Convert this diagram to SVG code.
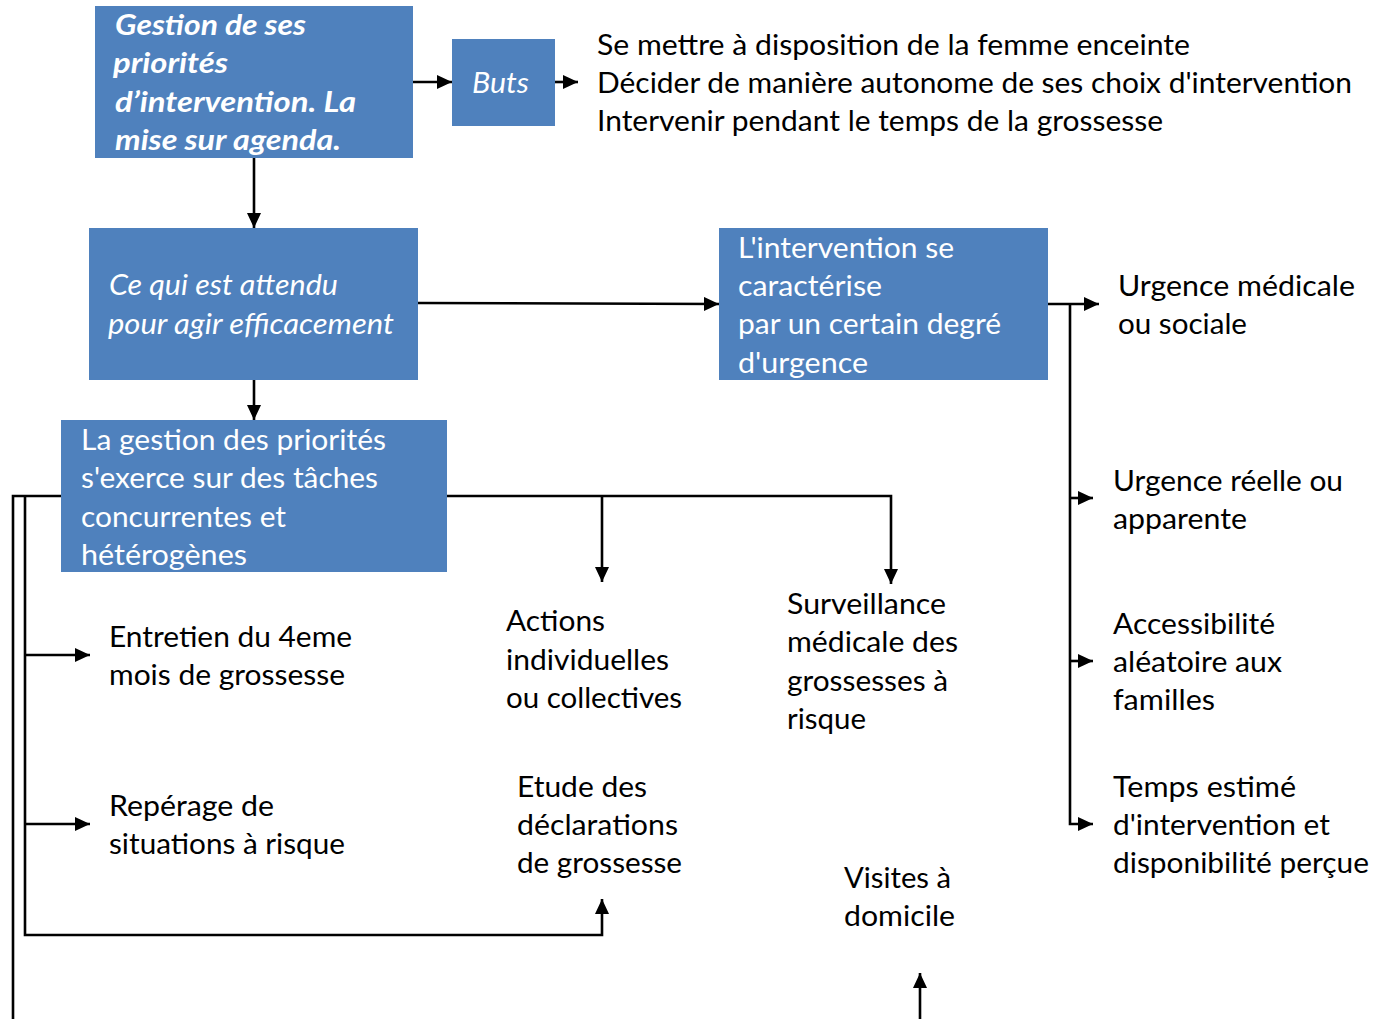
<svg xmlns="http://www.w3.org/2000/svg" width="1375" height="1019" viewBox="0 0 1375 1019">
<defs>
<marker id="ah" markerUnits="userSpaceOnUse" markerWidth="16" markerHeight="14" refX="15" refY="7" orient="auto">
<path d="M0,0 L15,7 L0,14 Z" fill="#000"/>
</marker>
<style>
.box{fill:#4F81BD}
.t{font-family:Lato,"Open Sans","Noto Sans",sans-serif;font-size:28px;fill:#000}
.w{fill:#fff}
.bi{font-weight:bold;font-style:italic}
.i{font-style:italic}
.c{fill:none;stroke:#000;stroke-width:2.6}
</style>
</defs>
<rect width="1375" height="1019" fill="#fff"/>

<g id="connectors">
<path class="c" d="M413,82 H452" marker-end="url(#ah)"/>
<path class="c" d="M555,82 H578" marker-end="url(#ah)"/>
<path class="c" d="M254,158 V228" marker-end="url(#ah)"/>
<path class="c" d="M254,380 V420" marker-end="url(#ah)"/>
<path class="c" d="M418,303 L719,304" marker-end="url(#ah)"/>
<path class="c" d="M447,496 H891 V584" marker-end="url(#ah)"/>
<path class="c" d="M602,496 V582" marker-end="url(#ah)"/>
<path class="c" d="M61,496 H13 V1020.2 H920 V973" marker-end="url(#ah)"/>
<path class="c" d="M25,496 V935 H602 V899" marker-end="url(#ah)"/>
<path class="c" d="M25,655 H90" marker-end="url(#ah)"/>
<path class="c" d="M25,824 H90" marker-end="url(#ah)"/>
<path class="c" d="M1048,304 H1099" marker-end="url(#ah)"/>
<path class="c" d="M1070,304 V824 H1093" marker-end="url(#ah)"/>
<path class="c" d="M1070,498 H1093" marker-end="url(#ah)"/>
<path class="c" d="M1070,661 H1093" marker-end="url(#ah)"/>
</g>

<g id="gestion">
<rect class="box" x="95" y="6" width="318" height="152"/>
<text class="t w bi"><tspan x="115" y="35" textLength="191" lengthAdjust="spacingAndGlyphs">Gestion de ses</tspan><tspan x="113" y="73" textLength="115" lengthAdjust="spacingAndGlyphs">priorités</tspan><tspan x="115" y="112" textLength="241" lengthAdjust="spacingAndGlyphs">d’intervention. La</tspan><tspan x="115" y="150" textLength="226" lengthAdjust="spacingAndGlyphs">mise sur agenda.</tspan></text>
</g>

<g id="buts">
<rect class="box" x="452" y="39" width="103" height="87"/>
<text class="t w i" x="472" y="93" textLength="57" lengthAdjust="spacingAndGlyphs">Buts</text>
</g>

<g id="buts-list">
<text class="t"><tspan x="597" y="55" textLength="593" lengthAdjust="spacingAndGlyphs">Se mettre à disposition de la femme enceinte</tspan><tspan x="597" y="93" textLength="755" lengthAdjust="spacingAndGlyphs">Décider de manière autonome de ses choix d'intervention</tspan><tspan x="597" y="131" textLength="566" lengthAdjust="spacingAndGlyphs">Intervenir pendant le temps de la grossesse</tspan></text>
</g>

<g id="attendu">
<rect class="box" x="89" y="228" width="329" height="152"/>
<text class="t w i"><tspan x="109" y="295" textLength="229" lengthAdjust="spacingAndGlyphs">Ce qui est attendu</tspan><tspan x="108" y="334" textLength="286" lengthAdjust="spacingAndGlyphs">pour agir efficacement</tspan></text>
</g>

<g id="intervention">
<rect class="box" x="719" y="228" width="329" height="152"/>
<text class="t w"><tspan x="738" y="258" textLength="216" lengthAdjust="spacingAndGlyphs">L'intervention se</tspan><tspan x="738" y="296" textLength="144" lengthAdjust="spacingAndGlyphs">caractérise</tspan><tspan x="738" y="334" textLength="263" lengthAdjust="spacingAndGlyphs">par un certain degré</tspan><tspan x="738" y="373" textLength="130" lengthAdjust="spacingAndGlyphs">d'urgence</tspan></text>
</g>

<g id="gestion-priorites">
<rect class="box" x="61" y="420" width="386" height="152"/>
<text class="t w"><tspan x="81" y="450" textLength="305" lengthAdjust="spacingAndGlyphs">La gestion des priorités</tspan><tspan x="81" y="488" textLength="297" lengthAdjust="spacingAndGlyphs">s'exerce sur des tâches</tspan><tspan x="81" y="527" textLength="205" lengthAdjust="spacingAndGlyphs">concurrentes et</tspan><tspan x="81" y="565" textLength="166" lengthAdjust="spacingAndGlyphs">hétérogènes</tspan></text>
</g>

<g id="urgence-medicale">
<text class="t"><tspan x="1118" y="296" textLength="237" lengthAdjust="spacingAndGlyphs">Urgence médicale</tspan><tspan x="1118" y="334" textLength="129" lengthAdjust="spacingAndGlyphs">ou sociale</tspan></text>
</g>
<g id="urgence-reelle">
<text class="t"><tspan x="1113" y="491" textLength="230" lengthAdjust="spacingAndGlyphs">Urgence réelle ou</tspan><tspan x="1113" y="529" textLength="134" lengthAdjust="spacingAndGlyphs">apparente</tspan></text>
</g>
<g id="accessibilite">
<text class="t"><tspan x="1113" y="634" textLength="162" lengthAdjust="spacingAndGlyphs">Accessibilité</tspan><tspan x="1113" y="672" textLength="169" lengthAdjust="spacingAndGlyphs">aléatoire aux</tspan><tspan x="1113" y="710" textLength="102" lengthAdjust="spacingAndGlyphs">familles</tspan></text>
</g>
<g id="temps">
<text class="t"><tspan x="1113" y="797" textLength="183" lengthAdjust="spacingAndGlyphs">Temps estimé</tspan><tspan x="1113" y="835" textLength="217" lengthAdjust="spacingAndGlyphs">d'intervention et</tspan><tspan x="1113" y="873" textLength="256" lengthAdjust="spacingAndGlyphs">disponibilité perçue</tspan></text>
</g>

<g id="entretien">
<text class="t"><tspan x="109" y="647" textLength="243" lengthAdjust="spacingAndGlyphs">Entretien du 4eme</tspan><tspan x="109" y="685" textLength="236" lengthAdjust="spacingAndGlyphs">mois de grossesse</tspan></text>
</g>
<g id="reperage">
<text class="t"><tspan x="109" y="816" textLength="165" lengthAdjust="spacingAndGlyphs">Repérage de</tspan><tspan x="109" y="854" textLength="236" lengthAdjust="spacingAndGlyphs">situations à risque</tspan></text>
</g>
<g id="actions">
<text class="t"><tspan x="506" y="631" textLength="99" lengthAdjust="spacingAndGlyphs">Actions</tspan><tspan x="506" y="670" textLength="163" lengthAdjust="spacingAndGlyphs">individuelles</tspan><tspan x="506" y="708" textLength="176" lengthAdjust="spacingAndGlyphs">ou collectives</tspan></text>
</g>
<g id="etude">
<text class="t"><tspan x="517" y="797" textLength="130" lengthAdjust="spacingAndGlyphs">Etude des</tspan><tspan x="517" y="835" textLength="161" lengthAdjust="spacingAndGlyphs">déclarations</tspan><tspan x="517" y="873" textLength="165" lengthAdjust="spacingAndGlyphs">de grossesse</tspan></text>
</g>
<g id="surveillance">
<text class="t"><tspan x="787" y="614" textLength="159" lengthAdjust="spacingAndGlyphs">Surveillance</tspan><tspan x="787" y="652" textLength="171" lengthAdjust="spacingAndGlyphs">médicale des</tspan><tspan x="787" y="691" textLength="161" lengthAdjust="spacingAndGlyphs">grossesses à</tspan><tspan x="787" y="729" textLength="79" lengthAdjust="spacingAndGlyphs">risque</tspan></text>
</g>
<g id="visites">
<text class="t"><tspan x="844" y="888" textLength="107" lengthAdjust="spacingAndGlyphs">Visites à</tspan><tspan x="844" y="926" textLength="111" lengthAdjust="spacingAndGlyphs">domicile</tspan></text>
</g>
</svg>
